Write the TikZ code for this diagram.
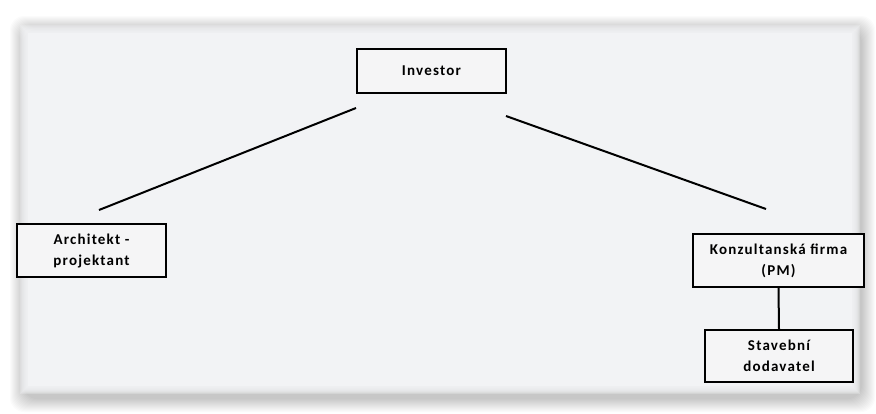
\documentclass[tikz,border=0pt]{standalone}
\usepackage{fontspec}
\newfontfamily\boxfont[LetterSpace=8]{Carlito}
\definecolor{panel}{HTML}{F2F3F5}
\definecolor{boxfill}{HTML}{F5F5F6}
\tikzset{
  orgbox/.style={draw=black, line width=2pt, fill=boxfill, align=center,
    inner sep=2pt, font=\boxfont\bfseries\fontsize{15}{21}\selectfont},
  link/.style={draw=black, line width=2pt}
}
\begin{document}
\begin{tikzpicture}[x=1pt,y=-1pt]
  \useasboundingbox (0,0) rectangle (876,413);
  \fill[white] (0,0) rectangle (876,413);
  % soft drop shadow behind the panel
  \foreach \k in {0,...,13}
    \fill[black, opacity=0.017, rounded corners=14pt]
      (10+\k,16+\k) rectangle (875-\k,412-\k);
  % panel with a slightly feathered edge
  \foreach \k in {0,...,7}
    \fill[panel, opacity=0.3] (20+\k,25+\k) rectangle (860-\k,394-\k);
  \fill[panel] (28,33) rectangle (852,386);

  % boxes
  \node[orgbox, minimum width=149pt, minimum height=44pt] (inv) at (431.5,71) {Investor};
  \node[orgbox, minimum width=149pt, minimum height=53pt] (arch) at (91.5,250.5) {Architekt -\\projektant};
  \node[orgbox, minimum width=171pt, minimum height=53pt] (kons) at (778.5,260.5) {Konzultanská firma\\(PM)};
  \node[orgbox, minimum width=148pt, minimum height=52pt] (stav) at (779,356) {Stavební\\dodavatel};

  % free-standing connector ends
  \coordinate (l1) at (356,108);
  \coordinate (l2) at (99,210);
  \coordinate (r1) at (506,116);
  \coordinate (r2) at (766,209);

  \draw[link] (l1) -- (l2);
  \draw[link] (r1) -- (r2);
  \draw[link] (kons.south) -- (stav.north);
\end{tikzpicture}
\end{document}
